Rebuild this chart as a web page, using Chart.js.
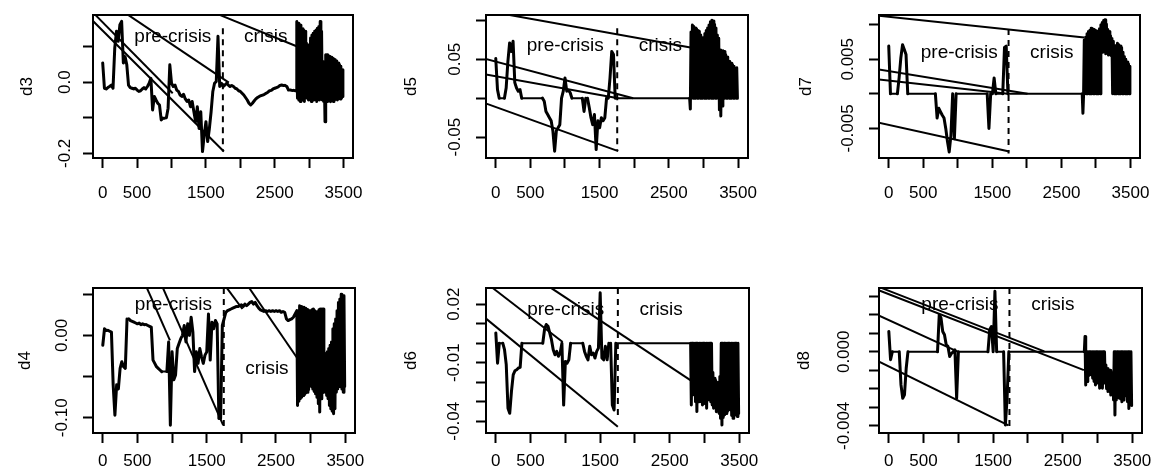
<!DOCTYPE html>
<html><head><meta charset="utf-8">
<script src="https://cdn.jsdelivr.net/npm/chart.js@4/dist/chart.umd.min.js"></script>
<style>
html,body{margin:0;padding:0;background:#fff;width:1153px;height:474px;overflow:hidden;position:relative}
canvas{position:absolute}
</style></head><body>
<script>
// ---------- data ----------
// pre: one sample every 25 observations from obs 1; crisis: one sample every 10 observations from obs 2801
const preStep = 25, preStart = 1, crisisStep = 10, crisisStart = 2801;
const xTickValues = [0,500,1000,1500,2000,2500,3000,3500];
const xTickLabels = ['0','500','','1500','','2500','','3500'];
const xRange = [-140, 3640];

const d3Pre = [0.054,-0.017,-0.019,-0.015,-0.012,-0.008,-0.017,0.096,0.143,0.115,
 0.162,0.171,0.054,0.072,0.049,-0.008,-0.015,-0.017,-0.019,-0.017,
 -0.022,-0.026,-0.024,-0.019,-0.015,-0.019,-0.012,-0.003,0.011,-0.078,
 -0.040,-0.050,-0.059,-0.064,-0.106,-0.101,-0.101,-0.100,-0.073,0.049,
 -0.003,-0.012,-0.008,-0.022,-0.026,-0.036,-0.040,-0.034,-0.047,-0.054,
 -0.050,-0.069,-0.054,-0.083,-0.111,-0.069,-0.130,-0.083,-0.195,-0.148,
 -0.111,-0.167,-0.130,-0.083,-0.026,-0.003,0.002,0.129,-0.012,-0.003,
 -0.012,-0.008,-0.003,-0.008,-0.012,-0.009,-0.012,-0.017,-0.019,-0.024,
 -0.026,-0.031,-0.036,-0.043,-0.050,-0.059,-0.064,-0.059,-0.053,-0.047,
 -0.043,-0.040,-0.038,-0.036,-0.034,-0.031,-0.028,-0.024,-0.023,-0.019,
 -0.017,-0.015,-0.013,-0.009,-0.008,-0.009,-0.009,-0.012,-0.022,-0.022,
 -0.023,-0.023];
const d3Crisis = [-0.024,-0.024,0.171,-0.045,0.166,-0.050,0.162,-0.054,0.160,-0.047,
 0.150,-0.050,0.147,-0.054,0.143,-0.040,0.110,-0.045,0.096,-0.050,
 0.105,-0.043,0.124,-0.054,0.133,-0.045,0.138,-0.050,0.143,-0.040,
 0.147,-0.054,0.152,-0.045,0.157,-0.050,0.171,-0.040,0.143,-0.050,
 0.058,-0.054,0.020,-0.111,0.077,-0.050,0.077,-0.054,0.075,-0.050,
 0.072,-0.055,0.070,-0.050,0.068,-0.054,0.065,-0.050,0.063,-0.047,
 0.060,-0.050,0.054,-0.045,0.050,-0.047,0.045,-0.045,0.035,-0.040];
const d3TickValues = [-0.2,-0.1,0,0.1];
const d3TickLabels = ['-0.2','','0.0',''];
const d3Trend = [[[-110,0.190],[1018,-0.031]],[[-144,0.173],[1762,-0.195]],[[365,0.190],[1834,-0.001]],[[1690,0.190],[2818,0.101]]];
const d3Split = [[1747,0.152],[1747,-0.195]];
const d3Notes = [['pre-crisis',1020,0.112],['crisis',2370,0.112]];

const d5Pre = [0.051,0.011,0,0,0,0,0.013,0.047,0.071,0.060,
 0.073,0.020,0.013,0.009,0.011,0,0,0,0,0,
 0,0,0,0,0,0,0,0,-0.004,-0.017,
 -0.021,-0.025,-0.029,-0.042,-0.068,-0.042,-0.038,-0.034,0,0.009,
 0.026,0.009,0.010,0.007,0,0,0,0,0,0,
 0,-0.017,0,0,-0.012,-0.025,-0.034,-0.021,-0.066,-0.029,
 -0.038,-0.025,-0.029,-0.025,0,0,0.026,0.060,0.056,0,
 0,0,0,0,0,0,0,0,0,0,
 0,0,0,0,0,0,0,0,0,0,
 0,0,0,0,0,0,0,0,0,0,
 0,0,0,0,0,0,0,0,0,0,
 0,0];
const d5Crisis = [0,-0.014,0.085,0,0.094,0,0.092,0,0.090,0,
 0.089,0,0.087,0,0.086,0,0.081,0,0.075,0,
 0.078,0,0.083,0,0.087,0,0.090,0,0.094,0,
 0.098,0,0.100,0,0.099,0,0.095,0,0.090,0,
 0.081,0,0.077,-0.015,0.062,-0.023,0.060,-0.010,0.061,0,
 0.060,0,0.056,0,0.053,0,0.048,0,0.047,0,
 0.045,0,0.043,0,0.041,0,0.037,0,0.039,0];
const d5TickValues = [-0.05,0,0.05,0.10];
const d5TickLabels = ['-0.05','','0.05',''];
const d5Trend = [[[0,0.110],[2813,0.065]],[[-154,0.0506],[1986,0]],[[-154,0.0306],[1769,0]],[[-154,-0.0064],[1769,-0.068]]];
const d5Split = [[1755,0.0898],[1755,-0.0677]];
const d5Notes = [['pre-crisis',1005,0.060],['crisis',2378,0.060]];

const d7Pre = [0.0069,0,0,0,0,0,0.0023,0.0052,0.0071,0.0064,
 0.0057,0,0,0,0,0,0,0,0,0,
 0,0,0,0,0,0,0,0,-0.0035,-0.0021,
 -0.0026,-0.0031,-0.0035,-0.0050,-0.0069,-0.0084,-0.0060,0,-0.0065,0,
 0,0,0,0,0,0,0,0,0,0,
 0,0,0,0,0,0,0,0,-0.0050,0,
 0,0.0023,0,0,0,0,0,0.0067,0.0069,0,
 0,0,0,0,0,0,0,0,0,0,
 0,0,0,0,0,0,0,0,0,0,
 0,0,0,0,0,0,0,0,0,0,
 0,0,0,0,0,0,0,0,0,0,
 0,0];
const d7Crisis = [0,-0.0028,0,0.0078,0,0.0082,0,0.0087,0,0.0090,
 0,0.0092,0,0.0095,0,0.0094,0,0.0093,0,0.0092,
 0,0.0091,0,0.0090,0,0.0094,0,0.0100,0.0062,0.0103,
 0.0060,0.0106,0.0065,0.0107,0.0058,0.0101,0.0063,0.0093,0.0056,0.0090,
 0.0060,0.0084,0.0055,0.0080,0,0.0076,0,0.0062,0,0.0070,
 0,0.0073,0,0.0071,0,0.0069,0,0.0067,0,0.0060,
 0,0.0054,0,0.0050,0,0.0046,0,0.0043,0,0.0040];
const d7TickValues = [-0.005,0,0.005,0.010];
const d7TickLabels = ['-0.005','','0.005',''];
const d7Trend = [[[-159,0.01131],[2829,0.00816]],[[-159,0.00354],[2010,0]],[[-159,0.00209],[1721,0]],[[-159,-0.00413],[1745,-0.00835]]];
const d7Split = [[1735,0.00937],[1735,-0.00864]];
const d7Notes = [['pre-crisis',1022,0.0052],['crisis',2360,0.0052]];

const d4Pre = [-0.012,0.008,0.006,0.006,0.005,0.004,-0.060,-0.097,-0.060,-0.065,
 -0.040,-0.032,-0.038,-0.040,0.020,0.020,0.018,0.017,0.016,0.015,
 0.014,0.015,0.013,0.014,0.013,0.013,0.012,0.011,0.010,-0.030,
 -0.034,-0.038,-0.040,-0.042,-0.044,-0.044,-0.044,-0.044,-0.008,-0.109,
 -0.020,-0.054,-0.048,-0.016,-0.010,-0.004,0.000,0.012,-0.008,0.014,
 0.000,0.022,0.004,-0.044,-0.020,-0.034,-0.016,-0.026,-0.034,-0.024,
 -0.020,0.026,-0.030,0.016,0.008,0.018,0.014,-0.101,-0.101,0.012,
 0.020,0.028,0.030,0.031,0.032,0.033,0.034,0.035,0.035,0.036,
 0.037,0.035,0.038,0.036,0.038,0.040,0.041,0.038,0.040,0.036,
 0.033,0.031,0.030,0.029,0.030,0.029,0.030,0.029,0.030,0.029,
 0.030,0.029,0.030,0.028,0.029,0.028,0.020,0.018,0.019,0.020,
 0.022,0.026];
const d4Crisis = [0.030,-0.085,0.030,-0.080,0.036,-0.077,0.035,-0.075,0.034,-0.073,
 0.034,-0.072,0.033,-0.070,0.032,-0.069,0.031,-0.066,0.030,-0.060,
 0.030,-0.062,0.031,-0.065,0.032,-0.068,0.030,-0.071,0.028,-0.075,
 0.029,-0.083,0.031,-0.093,0.032,-0.077,0.032,-0.070,0.032,-0.069,
 -0.032,-0.069,-0.022,-0.073,-0.020,-0.077,-0.016,-0.085,-0.012,-0.089,
 -0.008,-0.092,0.008,-0.095,0.014,-0.089,0.020,-0.069,0.030,-0.065,
 0.040,-0.062,0.044,-0.060,0.050,-0.065,0.044,-0.069,0.048,-0.062];
const d4TickValues = [-0.10,-0.05,0,0.05];
const d4TickLabels = ['-0.10','','0.00',''];
const d4Trend = [[[625,0.060],[970,-0.006]],[[856,0.060],[1738,-0.109]],[[1769,0.060],[2016,0.032]],[[2094,0.060],[2818,-0.029]]];
const d4Split = [[1747,0.0575],[1747,-0.111]];
const d4Notes = [['pre-crisis',1020,0.0306],['crisis',2370,-0.0468]];

const d6Pre = [0.0053,-0.0102,0,0,0,-0.0033,-0.0110,-0.0333,-0.0359,-0.0247,
 -0.0162,-0.0141,-0.0136,-0.0127,-0.0124,0,0,0,0,0,
 0,0,0,0,0,0,0,0,0.0070,0.0096,
 0.0087,0.0053,0.0018,-0.0033,-0.0059,-0.0042,-0.0067,-0.0050,0,-0.0317,
 -0.0093,-0.0102,-0.0085,0,0,0,0,0,0,0,
 0,-0.0042,-0.0067,-0.0085,-0.0016,-0.0059,-0.0050,-0.0076,-0.0042,-0.0025,
 0.0259,-0.0076,-0.0085,-0.0016,-0.0085,0,0,-0.0317,-0.0342,0,
 0,0,0,0,0,0,0,0,0,0,
 0,0,0,0,0,0,0,0,0,0,
 0,0,0,0,0,0,0,0,0,0,
 0,0,0,0,0,0,0,0,0,0,
 0,0];
const d6Crisis = [0,-0.0317,0,-0.0265,0,-0.0250,0,-0.0300,0,-0.0350,
 0,-0.0300,0,-0.0282,0,-0.0300,0,-0.0317,0,-0.0310,
 0,-0.0300,0,-0.0333,0,-0.0290,0,-0.0282,0,-0.0300,
 0,-0.0317,-0.0150,-0.0333,-0.0179,-0.0300,-0.0190,-0.0351,-0.0213,-0.0330,
 -0.0200,-0.0360,-0.0170,-0.0385,0,-0.0419,0,-0.0380,0,-0.0367,
 0,-0.0360,0,-0.0350,0,-0.0330,0,-0.0342,0,-0.0370,
 0,-0.0385,0,-0.0360,0,-0.0367,0,-0.0375,0,-0.0360];
const d6TickValues = [-0.04,-0.03,-0.02,-0.01,0,0.01,0.02];
const d6TickLabels = ['-0.04','','','-0.01','','','0.02'];
const d6Trend = [[[-48,0.0284],[962,0.0006]],[[-154,0.0130],[1755,-0.0428]],[[793,0.0284],[2813,-0.0193]]];
const d6Split = [[1755,0.0283],[1755,-0.0385]];
const d6Notes = [['pre-crisis',1005,0.0145],['crisis',2378,0.0145]];

const d8Pre = [0.00110,-0.00043,0,0,0,0,0,-0.00179,-0.00251,-0.00233,
 -0.00089,0,0,0,0,0,0,0,0,0,
 0,0,0,0,0,0,0,0,0,0.00201,
 0.00183,0.00110,0.00092,0.00038,0.00029,-0.00025,-0.00009,0,0.00011,-0.00251,
 0,0,0,0,0,0,0,0,0,0,
 0,0,0,0,0,0,0,0,0.00119,0.00137,
 0,0.00327,0,0,0,0,0,-0.00396,-0.00251,0,
 0,0,0,0,0,0,0,0,0,0,
 0,0,0,0,0,0,0,0,0,0,
 0,0,0,0,0,0,0,0,0,0,
 0,0,0,0,0,0,0,0,0,0,
 0,0];
const d8Crisis = [0,0,0.00083,-0.00179,0,-0.00160,0,-0.00130,0,-0.00107,
 0,-0.00125,0,-0.00143,0,-0.00160,0,-0.00179,0,-0.00170,
 0,-0.00160,0,-0.00197,0,-0.00180,0,-0.00197,0,-0.00170,
 0,-0.00161,-0.00071,-0.00200,-0.00090,-0.00215,-0.00107,-0.00215,-0.00100,-0.00233,
 -0.00110,-0.00233,-0.00125,-0.00260,0,-0.00342,0,-0.00260,0,-0.00251,
 0,-0.00240,0,-0.00255,0,-0.00270,0,-0.00260,0,-0.00240,
 0,-0.00233,0,-0.00270,0,-0.00306,0,-0.00288,0,-0.00290];
const d8TickValues = [-0.004,-0.003,-0.002,-0.001,0,0.001,0.002,0.003];
const d8TickLabels = ['-0.004','','','','0.000','','',''];
const d8Trend = [[[-159,0.00353],[2236,0.00002]],[[-159,0.00335],[2805,-0.00099]],[[-159,0.00199],[998,0]],[[-159,-0.00049],[1721,-0.00398]]];
const d8Split = [[1735,0.00345],[1735,-0.00405]];
const d8Notes = [['pre-crisis',1022,0.00226],['crisis',2360,0.00226]];

// ---------- layout / style ----------
const FONT = '"Liberation Sans", Arial, Helvetica, sans-serif';
const TICK_SIZE = 17, NOTE_SIZE = 19, TICK_LEN = 10, LEFT = 93, TOP = 15, BOTTOM = 60, RIGHT = 24;
const FLAT_WIDTH = 2, MOVING_WIDTH = 3;

const panels = [
  {name:'d3', pre:d3Pre, crisis:d3Crisis, ticks:d3TickValues, labels:d3TickLabels, trend:d3Trend, split:d3Split, notes:d3Notes,
   yRange:[-0.2131,0.1890], box:[93,15,355,158], titleOff:60, labelOff:21.6, xLabOff:41.7},
  {name:'d5', pre:d5Pre, crisis:d5Crisis, ticks:d5TickValues, labels:d5TickLabels, trend:d5Trend, split:d5Split, notes:d5Notes,
   yRange:[-0.0768,0.1068], box:[486,15,749,158], titleOff:68.4, labelOff:25, xLabOff:41.2},
  {name:'d7', pre:d7Pre, crisis:d7Crisis, ticks:d7TickValues, labels:d7TickLabels, trend:d7Trend, split:d7Split, notes:d7Notes,
   yRange:[-0.00928,0.01140], box:[879,15,1142,158], titleOff:66.7, labelOff:25, xLabOff:41.7},
  {name:'d4', pre:d4Pre, crisis:d4Crisis, ticks:d4TickValues, labels:d4TickLabels, trend:d4Trend, split:d4Split, notes:d4Notes,
   yRange:[-0.1185,0.0575], box:[93,288,355,433], titleOff:61.3, labelOff:24.7, xLabOff:34},
  {name:'d6', pre:d6Pre, crisis:d6Crisis, ticks:d6TickValues, labels:d6TickLabels, trend:d6Trend, split:d6Split, notes:d6Notes,
   yRange:[-0.0460,0.0283], box:[486,288,749,433], titleOff:68.7, labelOff:25.3, xLabOff:34},
  {name:'d8', pre:d8Pre, crisis:d8Crisis, ticks:d8TickValues, labels:d8TickLabels, trend:d8Trend, split:d8Split, notes:d8Notes,
   yRange:[-0.00439,0.00345], box:[879,288,1142,433], titleOff:68.3, labelOff:28.3, xLabOff:34}
];

const measureCtx = document.createElement('canvas').getContext('2d');
measureCtx.font = TICK_SIZE + 'px ' + FONT;
const MID = 0.3465 * TICK_SIZE; // baseline -> middle of em box

const notePlugin = {
  id: 'notes',
  afterDatasetsDraw(chart, args, opts) {
    const {ctx} = chart, xs = chart.scales.x, ys = chart.scales.y;
    ctx.save();
    ctx.font = NOTE_SIZE + 'px ' + FONT;
    ctx.fillStyle = '#000';
    ctx.textAlign = 'center';
    ctx.textBaseline = 'alphabetic';
    for (const [t, x, y] of opts.items) ctx.fillText(t, xs.getPixelForValue(x), ys.getPixelForValue(y));
    ctx.restore();
  }
};

function lineDs(points, extra) {
  return Object.assign({data: points.map(([x, y]) => ({x, y})), borderColor:'#000', borderWidth:2,
    pointRadius:0, tension:0, fill:false, borderJoinStyle:'round', borderCapStyle:'butt'}, extra || {});
}

for (const p of panels) {
  const [bl, bt, br, bb] = p.box;
  const w = br - bl + LEFT + RIGHT, h = bb - bt + TOP + BOTTOM;
  const cv = document.createElement('canvas');
  cv.width = w; cv.height = h;
  cv.style.width = w + 'px'; cv.style.height = h + 'px';
  cv.style.left = (bl - LEFT) + 'px'; cv.style.top = (bt - TOP) + 'px';
  document.body.appendChild(cv);

  const widest = Math.max(...p.labels.map(l => measureCtx.measureText(l).width));
  const yPad = p.labelOff + MID - TICK_LEN - widest / 2;
  const titlePad = LEFT - (p.titleOff + MID) - 0.6 * TICK_SIZE;
  const xPad = p.xLabOff - TICK_LEN - 0.6 * TICK_SIZE - MID;

  const series = p.pre.map((v, i) => ({x: preStart + preStep * i, y: v}))
    .concat(p.crisis.map((v, j) => ({x: crisisStart + crisisStep * j, y: v})));
  const datasets = [
    {data: series, borderColor:'#000', borderWidth:MOVING_WIDTH, pointRadius:0, tension:0, fill:false,
     borderJoinStyle:'round', borderCapStyle:'round',
     segment: {borderWidth: c => (c.p0.parsed.y === c.p1.parsed.y ? FLAT_WIDTH : MOVING_WIDTH)}},
    ...p.trend.map(t => lineDs(t)),
    lineDs(p.split, {borderDash:[6,5]})
  ];

  new Chart(cv, {
    type: 'line',
    data: {datasets},
    plugins: [notePlugin],
    options: {
      responsive:false, maintainAspectRatio:false, animation:false, devicePixelRatio:1,
      layout: {padding: {left:0, top:TOP, right:RIGHT, bottom:0}},
      plugins: {legend:{display:false}, tooltip:{enabled:false}, notes:{items:p.notes}},
      scales: {
        x: {
          type:'linear', position:'bottom', min:xRange[0], max:xRange[1],
          afterBuildTicks: s => { s.ticks = xTickValues.map(v => ({value:v})); },
          afterFit: s => { s.height = BOTTOM; },
          ticks: {autoSkip:false, maxRotation:0, minRotation:0, padding:xPad, color:'#000',
            font:{family:FONT, size:TICK_SIZE}, callback:(v, i) => xTickLabels[i]},
          grid: {display:true, drawOnChartArea:false, drawTicks:true, tickLength:TICK_LEN, tickWidth:2, tickColor:'#000'},
          border: {display:true, color:'#000', width:2}
        },
        y: {
          type:'linear', position:'left', min:p.yRange[0], max:p.yRange[1],
          afterBuildTicks: s => { s.ticks = p.ticks.map(v => ({value:v})); },
          afterFit: s => { s.width = LEFT; },
          ticks: {autoSkip:false, minRotation:90, maxRotation:90, crossAlign:'center', padding:yPad, color:'#000',
            font:{family:FONT, size:TICK_SIZE}, callback:(v, i) => p.labels[i]},
          grid: {display:true, drawOnChartArea:false, drawTicks:true, tickLength:TICK_LEN, tickWidth:2, tickColor:'#000'},
          border: {display:true, color:'#000', width:2},
          title: {display:true, text:p.name, color:'#000', font:{family:FONT, size:TICK_SIZE}, padding:{top:titlePad, bottom:0}}
        },
        xTop: {
          type:'linear', position:'top', min:0, max:1, display:true,
          ticks:{display:false}, grid:{display:false, drawTicks:false},
          border:{display:true, color:'#000', width:2},
          afterFit: s => { s.height = 0; }
        },
        yRight: {
          type:'linear', position:'right', min:0, max:1, display:true,
          ticks:{display:false}, grid:{display:false, drawTicks:false},
          border:{display:true, color:'#000', width:2},
          afterFit: s => { s.width = 0; }
        }
      }
    }
  });
}
</script>
</body></html>
